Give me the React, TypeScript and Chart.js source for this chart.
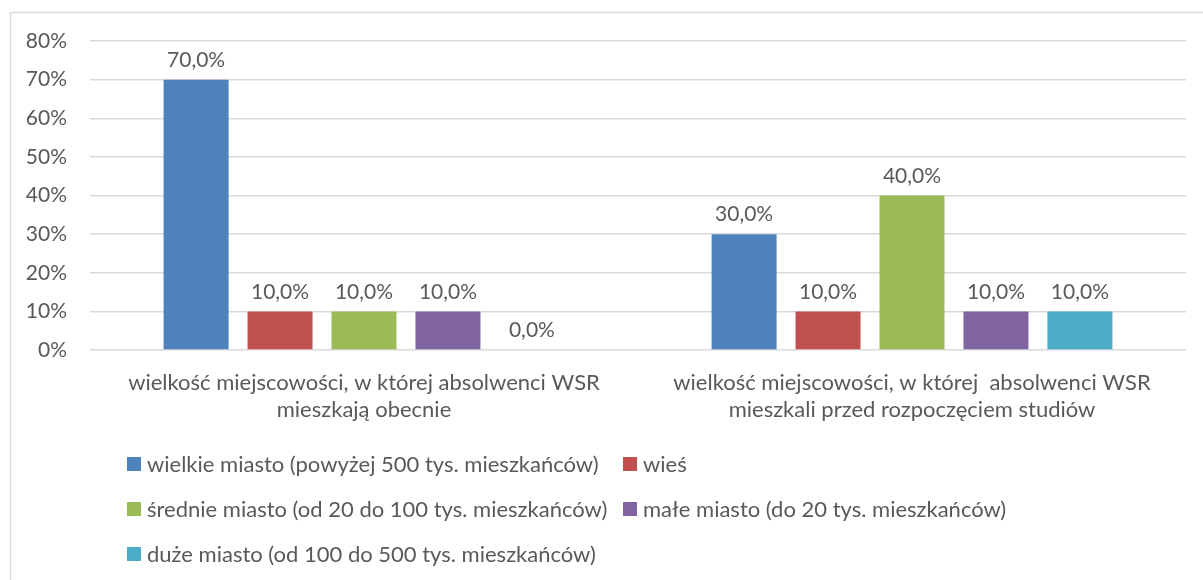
import React, { useEffect, useRef } from "react";
import { Chart, registerables } from "chart.js";

Chart.register(...registerables);

const categories: string[][] = [
  ["wielkość miejscowości, w której absolwenci WSR", "mieszkają obecnie"],
  ["wielkość miejscowości, w której  absolwenci WSR", "mieszkali przed rozpoczęciem studiów"],
];

const seriesLabels = [
  "wielkie miasto (powyżej 500 tys. mieszkańców)",
  "wieś",
  "średnie miasto (od 20 do 100 tys. mieszkańców)",
  "małe miasto (do 20 tys. mieszkańców)",
  "duże miasto (od 100 do 500 tys. mieszkańców)",
];

const wielkieMiasto = [70, 30];
const wies = [10, 10];
const srednieMiasto = [10, 40];
const maleMiasto = [10, 10];
const duzeMiasto = [0, 10];

const yTicks = [0, 10, 20, 30, 40, 50, 60, 70, 80];

const colors = ["#4F81BD", "#C0504D", "#9BBB59", "#8064A2", "#4BACC6"];

const FONT = "Lato";
const FS = 22;
const FS_SMALL = 21;
const TEXT = "#595959";

const frame = {
  id: "frame",
  beforeDraw(chart: any) {
    const { ctx, width, height } = chart;
    ctx.save();
    ctx.fillStyle = "#ffffff";
    ctx.fillRect(0, 0, width, height);
    ctx.strokeStyle = "#D9D9D9";
    ctx.lineWidth = 1.5;
    ctx.strokeRect(10.5, 12.5, width + 20, height + 20);
    ctx.restore();
  },
};

const valueLabels = {
  id: "valueLabels",
  afterDatasetsDraw(chart: any) {
    const { ctx } = chart;
    ctx.save();
    ctx.font = `${FS_SMALL}px ${FONT}`;
    ctx.fillStyle = TEXT;
    ctx.textAlign = "center";
    ctx.textBaseline = "bottom";
    chart.data.datasets.forEach((ds: any, i: number) => {
      const meta = chart.getDatasetMeta(i);
      meta.data.forEach((bar: any, j: number) => {
        const v = ds.data[j];
        const txt = v.toFixed(1).replace(".", ",") + "%";
        ctx.fillText(txt, bar.x, bar.y - 9);
      });
    });
    ctx.restore();
  },
};

const legendCols = [127, 623];
const legendRows = [464, 509, 554];

const customLegend = {
  id: "customLegend",
  afterDraw(chart: any) {
    const { ctx } = chart;
    ctx.save();
    ctx.font = `${FS}px ${FONT}`;
    ctx.textBaseline = "middle";
    ctx.textAlign = "left";
    chart.data.datasets.forEach((ds: any, i: number) => {
      const x = legendCols[i % 2];
      const y = legendRows[Math.floor(i / 2)];
      ctx.fillStyle = ds.backgroundColor;
      ctx.fillRect(x, y - 7, 14, 14);
      ctx.fillStyle = TEXT;
      ctx.fillText(ds.label, x + 20, y + 1);
    });
    ctx.restore();
  },
};

export default function App() {
  const ref = useRef<HTMLCanvasElement | null>(null);

  useEffect(() => {
    if (!ref.current) return;
    const seriesData = [wielkieMiasto, wies, srednieMiasto, maleMiasto, duzeMiasto];
    const chart = new Chart(ref.current, {
      type: "bar",
      data: {
        labels: categories,
        datasets: seriesData.map((d, i) => ({
          label: seriesLabels[i],
          data: d,
          backgroundColor: colors[i],
          borderWidth: 0,
          categoryPercentage: 0.766,
          barPercentage: 0.774,
        })),
      },
      options: {
        responsive: false,
        animation: false,
        devicePixelRatio: 1,
        layout: { padding: { top: 41, right: 17, left: 0, bottom: 0 } },
        plugins: {
          legend: { display: false },
          tooltip: { enabled: false },
        },
        scales: {
          x: {
            grid: { display: false, drawTicks: false },
            border: { display: false },
            ticks: {
              color: TEXT,
              font: { family: FONT, size: FS, lineHeight: 1.23 },
              padding: 19.5,
              maxRotation: 0,
              autoSkip: false,
            },
            afterFit: (s: any) => {
              s.height = 230;
            },
          },
          y: {
            min: 0,
            max: 80,
            afterBuildTicks: (s: any) => {
              s.ticks = yTicks.map((v) => ({ value: v }));
            },
            grid: { color: "#D9D9D9", lineWidth: 1.5, drawTicks: false },
            border: { display: false },
            ticks: {
              color: TEXT,
              font: { family: FONT, size: FS_SMALL },
              padding: 23,
              callback: (v: any) => `${v}%`,
            },
            afterFit: (s: any) => {
              s.width = 90;
            },
          },
        },
      },
      plugins: [frame, valueLabels, customLegend],
    });
    return () => chart.destroy();
  }, []);

  return (
    <div style={{ position: "absolute", left: 0, top: 0, width: 1203, height: 580 }}>
      <canvas ref={ref} width={1203} height={580} style={{ display: "block" }} />
    </div>
  );
}
